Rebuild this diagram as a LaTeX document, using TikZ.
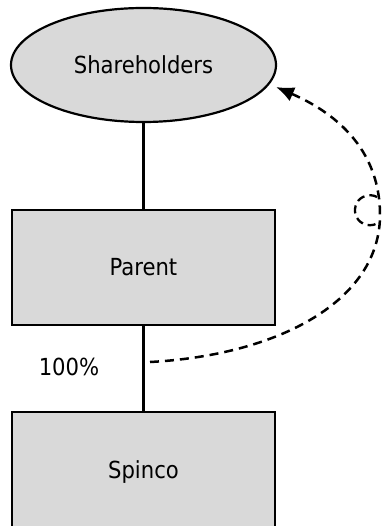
\documentclass[tikz,border=0pt]{standalone}
\usepackage{fontspec}
\setmainfont{DejaVu Sans Condensed}
\usetikzlibrary{shapes.geometric,arrows.meta}
\definecolor{boxgray}{HTML}{D9D9D9}
\tikzset{
  ent/.style={draw=black, fill=boxgray, line width=2.2pt, inner sep=0pt, font=\fontsize{23.5}{26}\selectfont},
  entbox/.style={ent, rectangle, minimum width=263pt, minimum height=115pt},
  link/.style={line width=2.2pt},
  distrib/.style={line width=2.5pt, dash pattern=on 9pt off 6pt, -{Latex[length=18pt,width=15pt]}},
  pct/.style={font=\fontsize{23.5}{26}\selectfont}
}
\begin{document}
\begin{tikzpicture}[x=1pt,y=-1pt]
\useasboundingbox (0,0) rectangle (381,526);
\clip (0,0) rectangle (381,526);
\node[ent, ellipse, minimum width=265pt, minimum height=114pt] (sh) at (143.5,65) {Shareholders};
\node[entbox] (parent) at (143.5,267.5) {Parent};
\node[entbox, minimum height=120pt] (spinco) at (143.5,472) {Spinco};
\draw[link] (sh.south) -- (parent.north);
\draw[link] (parent.south) -- (spinco.north);
\node[pct] (p100) at (69,367) {100\%};
\coordinate (dstart) at (150,362);
\coordinate (dend) at (276,87);
\draw[distrib] (dstart) .. controls (280,355) and (380,300) .. (380,215) .. controls (380,140) and (322,107) .. (dend);
\draw[line width=2.3pt, dash pattern=on 8pt off 5pt] (377,197) arc[start angle=62, end angle=298, radius=15pt];
\end{tikzpicture}
\end{document}
